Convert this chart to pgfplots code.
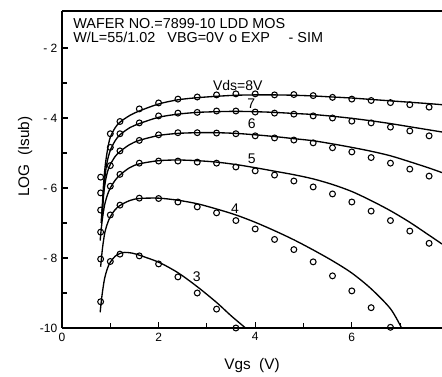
\documentclass[border=0pt]{standalone}
\usepackage{pgfplots}
\pgfplotsset{compat=1.18}
\usepackage{fontspec}
\setmainfont{Liberation Sans}
\begin{document}
\begin{tikzpicture}
\begin{axis}[
  at={(0,0)}, anchor=south west,
  scale only axis, width=285pt, height=237.75pt,
  xmin=0, xmax=7.867, ymin=-10, ymax=-0.943,
  axis x line*=bottom, axis y line*=left,
  axis line style={line width=1pt},
  clip=false,
  tick align=inside,
  major tick length=4.5pt, minor tick length=3.5pt,
  every tick/.style={black, line width=0.8pt},
  xtick={0,2,4,6}, minor xtick={1,3,5,7},
  xticklabels={0,2,4,6},
  ytick={-10,-8,-6,-4,-2}, minor ytick={-9,-7,-5,-3},
  yticklabels={-10,- 8,- 6,- 4,- 2},
  tick label style={font=\fontsize{9}{10}\selectfont},
  xlabel={Vgs\ \ (V)}, ylabel={LOG\ \ (Isub)},
  label style={font=\fontsize{11.5}{13}\selectfont},
  xlabel style={at={(axis description cs:0.5,-0.117)}, anchor=center},
  ylabel style={at={(axis description cs:-0.097,0.54)}, anchor=center},
]
\draw[line width=1pt] (rel axis cs:0,1) -- (rel axis cs:1,1);

% simulation curves
\addplot[black, line width=1pt, smooth] coordinates {(0.82,-6.9)(0.86,-5.9)(0.9,-5.3)(0.95,-4.85)(1.0,-4.55)(1.1,-4.28)(1.2,-4.12)(1.4,-3.93)(1.6,-3.8)(2.0,-3.6)(2.4,-3.48)(2.8,-3.42)(3.2,-3.38)(3.6,-3.35)(4.0,-3.34)(4.4,-3.34)(4.8,-3.35)(5.2,-3.37)(5.6,-3.40)(6.0,-3.43)(6.4,-3.47)(6.8,-3.51)(7.2,-3.55)(7.6,-3.59)(7.867,-3.62)};
\addplot[black, line width=1pt, smooth] coordinates {(0.83,-6.9)(0.87,-6.0)(0.91,-5.45)(0.96,-5.1)(1.0,-4.92)(1.1,-4.65)(1.2,-4.48)(1.4,-4.28)(1.6,-4.16)(2.0,-3.98)(2.4,-3.89)(2.8,-3.84)(3.2,-3.82)(3.6,-3.81)(4.0,-3.82)(4.4,-3.84)(4.8,-3.87)(5.2,-3.90)(5.6,-3.95)(6.0,-4.01)(6.4,-4.08)(6.8,-4.16)(7.2,-4.25)(7.6,-4.34)(7.867,-4.40)};
\addplot[black, line width=1pt, smooth] coordinates {(0.81,-7.0)(0.85,-6.3)(0.9,-5.8)(0.95,-5.5)(1.0,-5.33)(1.1,-5.1)(1.2,-4.96)(1.4,-4.76)(1.6,-4.64)(2.0,-4.5)(2.4,-4.44)(2.8,-4.42)(3.2,-4.42)(3.6,-4.44)(4.0,-4.48)(4.4,-4.53)(4.8,-4.59)(5.2,-4.65)(5.6,-4.74)(6.0,-4.84)(6.4,-4.95)(6.8,-5.08)(7.2,-5.25)(7.6,-5.43)(7.867,-5.56)};
\addplot[black, line width=1pt, smooth] coordinates {(0.79,-7.5)(0.83,-6.95)(0.88,-6.5)(0.94,-6.2)(1.0,-6.0)(1.1,-5.78)(1.2,-5.63)(1.4,-5.42)(1.6,-5.31)(2.0,-5.22)(2.4,-5.20)(2.8,-5.22)(3.2,-5.26)(3.6,-5.33)(4.0,-5.42)(4.4,-5.52)(4.8,-5.62)(5.2,-5.74)(5.6,-5.9)(6.0,-6.1)(6.4,-6.36)(6.8,-6.65)(7.2,-6.98)(7.6,-7.35)(7.867,-7.6)};
\addplot[black, line width=1pt, smooth] coordinates {(0.80,-8.25)(0.84,-7.7)(0.89,-7.25)(0.95,-6.98)(1.0,-6.82)(1.1,-6.62)(1.2,-6.5)(1.4,-6.36)(1.6,-6.30)(2.0,-6.29)(2.4,-6.35)(2.8,-6.45)(3.2,-6.6)(3.6,-6.77)(4.0,-6.98)(4.4,-7.22)(4.8,-7.48)(5.2,-7.77)(5.6,-8.08)(6.0,-8.43)(6.4,-8.88)(6.8,-9.45)(7.03,-10)};
\addplot[black, line width=1pt, smooth] coordinates {(0.79,-9.55)(0.83,-9.05)(0.88,-8.6)(0.94,-8.3)(1.0,-8.12)(1.1,-7.95)(1.2,-7.87)(1.3,-7.84)(1.45,-7.86)(1.6,-7.92)(2.0,-8.12)(2.4,-8.42)(2.8,-8.82)(3.2,-9.27)(3.5,-9.65)(3.8,-10)};

% experimental points
\addplot[only marks, mark=o, mark size=2.2pt, mark options={line width=0.8pt, fill=white}] coordinates {(0.8,-5.69)(1.0,-4.45)(1.2,-4.10)(1.6,-3.74)(2.0,-3.57)(2.4,-3.46)(2.8,-3.40)(3.2,-3.34)(3.6,-3.31)(4.0,-3.31)(4.4,-3.34)(4.8,-3.33)(5.2,-3.36)(5.6,-3.41)(6.0,-3.46)(6.4,-3.50)(6.8,-3.56)(7.2,-3.62)(7.6,-3.69)};
\addplot[only marks, mark=o, mark size=2.2pt, mark options={line width=0.8pt, fill=white}] coordinates {(0.8,-6.14)(1.0,-4.84)(1.2,-4.45)(1.6,-4.14)(2.0,-3.94)(2.4,-3.86)(2.8,-3.84)(3.2,-3.80)(3.6,-3.80)(4.0,-3.83)(4.4,-3.86)(4.8,-3.89)(5.2,-3.94)(5.6,-4.00)(6.0,-4.09)(6.4,-4.14)(6.8,-4.26)(7.2,-4.37)(7.6,-4.51)};
\addplot[only marks, mark=o, mark size=2.2pt, mark options={line width=0.8pt, fill=white}] coordinates {(0.8,-6.63)(1.0,-5.36)(1.2,-4.94)(1.6,-4.64)(2.0,-4.48)(2.4,-4.42)(2.8,-4.42)(3.2,-4.43)(3.6,-4.45)(4.0,-4.51)(4.4,-4.57)(4.8,-4.63)(5.2,-4.71)(5.6,-4.85)(6.0,-4.97)(6.4,-5.13)(6.8,-5.29)(7.2,-5.46)(7.6,-5.66)};
\addplot[only marks, mark=o, mark size=2.2pt, mark options={line width=0.8pt, fill=white}] coordinates {(0.8,-7.26)(1.0,-5.95)(1.2,-5.61)(1.6,-5.29)(2.0,-5.23)(2.4,-5.23)(2.8,-5.26)(3.2,-5.29)(3.6,-5.40)(4.0,-5.51)(4.4,-5.63)(4.8,-5.80)(5.2,-5.97)(5.6,-6.17)(6.0,-6.40)(6.4,-6.66)(6.8,-6.93)(7.2,-7.23)(7.6,-7.58)};
\addplot[only marks, mark=o, mark size=2.2pt, mark options={line width=0.8pt, fill=white}] coordinates {(0.8,-8.03)(1.0,-6.77)(1.2,-6.49)(1.6,-6.29)(2.0,-6.30)(2.4,-6.40)(2.8,-6.54)(3.2,-6.71)(3.6,-6.93)(4.0,-7.17)(4.4,-7.47)(4.8,-7.76)(5.2,-8.11)(5.6,-8.51)(6.0,-8.94)(6.4,-9.42)(6.8,-9.98)};
\addplot[only marks, mark=o, mark size=2.2pt, mark options={line width=0.8pt, fill=white}] coordinates {(0.8,-9.25)(1.0,-8.10)(1.2,-7.89)(1.6,-7.94)(2.0,-8.17)(2.4,-8.54)(2.8,-9.00)(3.2,-9.46)(3.6,-10.0)};

% curve labels
\node[font=\fontsize{10.5}{12}\selectfont] at (axis cs:3.64,-3.06) {Vds=8V};
\node[font=\fontsize{10.5}{12}\selectfont] at (axis cs:3.92,-3.58) {7};
\node[font=\fontsize{10.5}{12}\selectfont] at (axis cs:3.93,-4.17) {6};
\node[font=\fontsize{10.5}{12}\selectfont] at (axis cs:3.93,-5.17) {5};
\node[font=\fontsize{10.5}{12}\selectfont] at (axis cs:3.58,-6.60) {4};
\node[font=\fontsize{10.5}{12}\selectfont] at (axis cs:2.79,-8.54) {3};

% header
\node[anchor=base west, inner sep=0pt, font=\fontsize{10.8}{12}\selectfont] at (axis cs:0.23,-1.457) {WAFER NO.=7899-10 LDD MOS};
\node[anchor=base west, inner sep=0pt, font=\fontsize{10.8}{12}\selectfont] at (axis cs:0.23,-1.857) {W/L=55/1.02\hspace{9pt}VBG=0V\hspace{4pt}o\hspace{3pt}EXP\hspace{14pt}-\hspace{3pt}SIM};
\end{axis}
\pgfresetboundingbox
\useasboundingbox (-46.5pt,-36.75pt) rectangle (285pt,246pt);
\end{tikzpicture}
\end{document}
